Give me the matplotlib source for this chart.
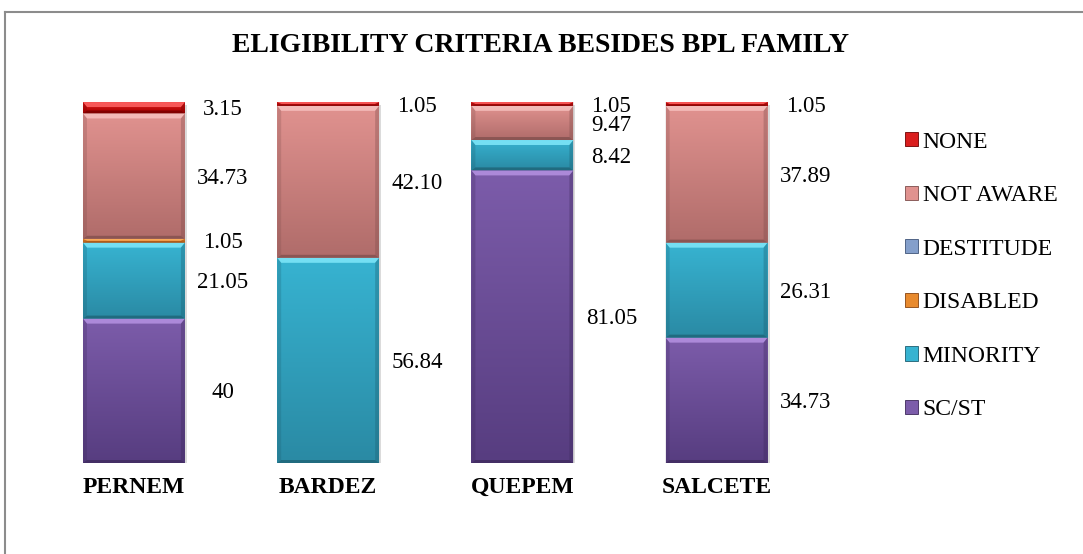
"""Stacked 100% bars: eligibility criteria besides BPL family, by taluka."""

import matplotlib

matplotlib.use("Agg")
import matplotlib.pyplot as plt
import numpy as np
from matplotlib.colors import LinearSegmentedColormap
from matplotlib.lines import Line2D
from matplotlib.patches import Polygon, Patch

plt.rcParams["font.family"] = ["Liberation Serif", "DejaVu Serif"]

TITLE = "ELIGIBILITY CRITERIA BESIDES BPL FAMILY"
TALUKAS = ["PERNEM", "BARDEZ", "QUEPEM", "SALCETE"]

# stacking order, bottom to top
CRITERIA = ["SC/ST", "MINORITY", "DISABLED", "DESTITUDE", "NOT AWARE", "NONE"]
SC_ST = [40, 0, 81.05, 34.73]
MINORITY = [21.05, 56.84, 8.42, 26.31]
DISABLED = [1.05, 0, 0, 0]
DESTITUDE = [0, 0, 0, 0]
NOT_AWARE = [34.73, 42.10, 9.47, 37.89]
NONE = [3.15, 1.05, 1.05, 1.05]

# highlight, body top, body bottom, dark edge
SHADES = {
    "SC/ST": ("#B592E2", "#7C5CAA", "#573D80", "#3C285A"),
    "MINORITY": ("#80E8FA", "#37B3D1", "#2A8AA4", "#1C5E70"),
    "DISABLED": ("#FFB262", "#E88A2E", "#C4641A", "#874310"),
    "DESTITUDE": ("#B6CEF2", "#849FCB", "#5E7AA8", "#3E5478"),
    "NOT AWARE": ("#F7C2C0", "#E0928F", "#B06C6A", "#7C4C4A"),
    "NONE": ("#FF6464", "#DA1E1E", "#AE0000", "#6E0000"),
}

W, H, DPI = 1083, 554, 100
BAR_WIDTH = 0.525


def fmt(v):
    return f"{v:.0f}" if float(v).is_integer() else f"{v:.2f}"


def bevel_segment(ax, x0, x1, y0, y1, shades, px_x, px_y):
    hi, top, bot, dark = shades
    by = min(5 * px_y, (y1 - y0) / 2)
    bb = min(3 * px_y, (y1 - y0) / 3)
    bx = 4 * px_x
    grad = np.linspace(1, 0, 64).reshape(-1, 1)
    cmap = LinearSegmentedColormap.from_list("g", [bot, top])
    ax.imshow(grad, extent=(x0, x1, y0, y1), aspect="auto", cmap=cmap,
              origin="upper", interpolation="bilinear", zorder=2)
    polys = [
        ([(x0, y1), (x1, y1), (x1 - bx, y1 - by), (x0 + bx, y1 - by)], hi, 0.85),
        ([(x0, y0), (x1, y0), (x1 - bx, y0 + bb), (x0 + bx, y0 + bb)], dark, 0.7),
        ([(x0, y0), (x0 + bx, y0 + bb), (x0 + bx, y1 - by), (x0, y1)], dark, 0.25),
        ([(x1, y0), (x1 - bx, y0 + bb), (x1 - bx, y1 - by), (x1, y1)], dark, 0.35),
    ]
    for pts, color, alpha in polys:
        ax.add_patch(Polygon(pts, closed=True, facecolor=color, edgecolor="none",
                             alpha=alpha, zorder=3))


def main():
    fig = plt.figure(figsize=(W / DPI, H / DPI), dpi=DPI)
    ax_left, ax_right, ax_bottom, ax_top = 36.85, 813.7, 463, 102
    ax = fig.add_axes([ax_left / W, 1 - ax_bottom / H,
                       (ax_right - ax_left) / W, (ax_bottom - ax_top) / H])
    xlim, ylim = (-0.5, 3.5), (0, 100)
    px_x = (xlim[1] - xlim[0]) / (ax_right - ax_left)
    px_y = (ylim[1] - ylim[0]) / (ax_bottom - ax_top)

    series = dict(zip(CRITERIA, [SC_ST, MINORITY, DISABLED, DESTITUDE, NOT_AWARE, NONE]))
    x = np.arange(len(TALUKAS))
    bottoms = np.zeros(len(TALUKAS))

    # soft drop shadow under each full bar
    totals = np.sum([series[c] for c in CRITERIA], axis=0)
    for xi, tot in zip(x, totals):
        ax.bar(xi + 2 * px_x, tot, width=BAR_WIDTH, bottom=-3 * px_y,
               color="#9A9A9A", alpha=0.35, zorder=1, linewidth=0)

    for crit in CRITERIA:
        vals = np.asarray(series[crit], dtype=float)
        for xi, b, v in zip(x, bottoms, vals):
            if v <= 0:
                continue
            x0, x1 = xi - BAR_WIDTH / 2, xi + BAR_WIDTH / 2
            bevel_segment(ax, x0, x1, b, b + v, SHADES[crit], px_x, px_y)
            ax.text(x1 + 38 * px_x, b + v / 2 - 0.6, fmt(v), ha="center", va="center",
                    fontsize=16.5, color="black", zorder=5)
        bottoms += vals

    ax.set_xlim(*xlim)
    ax.set_ylim(*ylim)
    ax.set_xticks(x)
    ax.set_xticklabels(TALUKAS, fontsize=17, fontweight="bold")
    ax.tick_params(axis="x", length=0, pad=10)
    ax.tick_params(axis="y", left=False, labelleft=False)
    for sp in ax.spines.values():
        sp.set_visible(False)
    ax.patch.set_visible(False)

    fig.text(541 / W, 1 - 45 / H, TITLE, ha="center", va="center",
             fontsize=20, fontweight="bold")

    handles = [Patch(facecolor=SHADES[c][1], edgecolor=SHADES[c][3], linewidth=0.6)
               for c in CRITERIA[::-1]]
    fig.legend(handles, CRITERIA[::-1], loc="center left",
               bbox_to_anchor=(905 / W, 1 - 276 / H), frameon=False,
               fontsize=17, handlelength=0.55, handleheight=0.55,
               handletextpad=0.2, labelspacing=1.38, borderpad=0, borderaxespad=0)

    # chart frame (only top and left edges fall inside the crop)
    frame = dict(color="#8C8C8C", linewidth=1.5, transform=fig.transFigure)
    fig.add_artist(Line2D([5 / W, 1], [1 - 12 / H, 1 - 12 / H], **frame))
    fig.add_artist(Line2D([5 / W, 5 / W], [0, 1 - 12 / H], **frame))

    fig.savefig("out.png", dpi=DPI, facecolor="white")
    plt.close(fig)


if __name__ == "__main__":
    main()
